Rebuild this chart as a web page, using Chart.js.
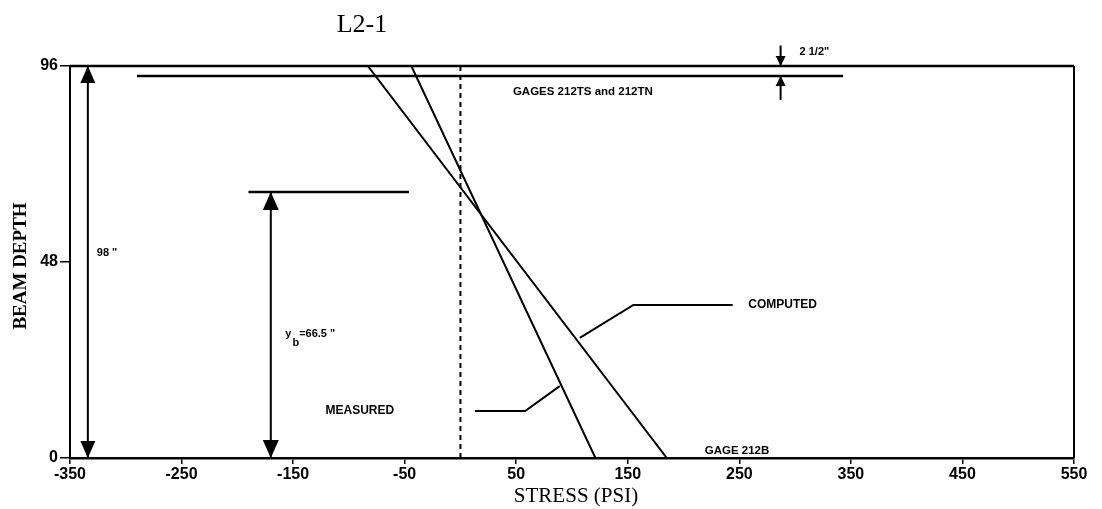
<!DOCTYPE html>
<html>
<head>
<meta charset="utf-8">
<script src="https://cdn.jsdelivr.net/npm/chart.js@4.4.1/dist/chart.umd.min.js"></script>
<style>
  html, body { margin: 0; padding: 0; background: #fff; }
  #wrap { width: 1102px; height: 509px; position: relative; }
</style>
</head>
<body>
<div id="wrap"><canvas id="c"></canvas></div>
<script>
// ---- chart text ----
const chartTitle = 'L2-1';
const xAxisTitle = 'STRESS (PSI)';
const yAxisTitle = 'BEAM DEPTH';

// ---- axes ----
const stressTicks = [-350, -250, -150, -50, 50, 150, 250, 350, 450, 550];
const depthTicks = [0, 48, 96];

// ---- stress profiles (top of beam, bottom of beam) ----
const depthEnds = [96, 0];
const measuredStress = [-44, 121];
const computedStress = [-83, 185];

// ---- beam geometry, inches ----
const beamDepthIn = 98;
const neutralAxisIn = 66.5;
const gageOffsetIn = 2.5;

// ---- leader lines to the series labels ----
const computedLeaderX = [107, 155, 244];
const computedLeaderY = [29.4, 37.5, 37.5];
const measuredLeaderX = [13, 58, 89];
const measuredLeaderY = [11.5, 11.5, 17.6];

// ---- dimension lines ----
const gageLineX = [-290, 343];
const ybLineX = [-190, -46];
const depthArrowX = -334;
const ybArrowX = -170;
const offsetArrowX = 287;
const offsetTails = [101, 87.7];

// inches -> depth axis units (the 98" beam spans the 0..96 axis)
const toAxis = v => v * depthTicks[depthTicks.length - 1] / beamDepthIn;
const gageY = toAxis(beamDepthIn - gageOffsetIn);
const ybY = toAxis(neutralAxisIn);
const topY = toAxis(beamDepthIn);

const pts = (xs, ys) => xs.map((x, i) => ({ x, y: ys[i] }));

function lineSet(data, extra) {
  return Object.assign({
    data, showLine: true, borderColor: '#000', backgroundColor: '#000',
    borderWidth: 2, pointRadius: 0, tension: 0, fill: false
  }, extra || {});
}

const datasets = [
  lineSet(pts(measuredStress, depthEnds)),
  lineSet(pts(computedStress, depthEnds)),
  lineSet(pts(computedLeaderX, computedLeaderY)),
  lineSet(pts(measuredLeaderX, measuredLeaderY)),
  lineSet([{ x: 0, y: 0 }, { x: 0, y: topY }], { borderDash: [5, 4] }),
  lineSet(pts(gageLineX, [gageY, gageY]), { borderWidth: 2.5 }),
  lineSet(pts(ybLineX, [ybY, ybY]), { borderWidth: 2.5 }),
  lineSet([{ x: depthArrowX, y: 0 }, { x: depthArrowX, y: topY }]),
  lineSet([{ x: ybArrowX, y: 0 }, { x: ybArrowX, y: ybY }]),
  lineSet([{ x: offsetArrowX, y: offsetTails[0] }, { x: offsetArrowX, y: topY }], { clip: false }),
  lineSet([{ x: offsetArrowX, y: offsetTails[1] }, { x: offsetArrowX, y: gageY }], { clip: false })
];

// arrowheads: tip at (x, y), pointing up or down
const arrowHeads = [
  { x: depthArrowX, y: topY, dir: 'up', w: 15, h: 17 },
  { x: depthArrowX, y: 0, dir: 'down', w: 15, h: 17 },
  { x: ybArrowX, y: ybY, dir: 'up', w: 16, h: 18 },
  { x: ybArrowX, y: 0, dir: 'down', w: 16, h: 18 },
  { x: offsetArrowX, y: topY, dir: 'down', w: 10, h: 10 },
  { x: offsetArrowX, y: gageY, dir: 'up', w: 10, h: 10 }
];

const smallFont = 'bold 12px "Liberation Sans", Arial, sans-serif';
const noteLabels = [
  { text: 'COMPUTED', x: 258, y: 37.5, font: smallFont },
  { text: 'MEASURED', x: -121, y: 11.5, font: smallFont },
  { text: 'GAGES 212TS and 212TN', x: 47, y: 89.6, font: 'bold 11.5px "Liberation Sans", Arial, sans-serif' },
  { text: 'GAGE 212B', x: 219, y: 1.8, font: 'bold 11.5px "Liberation Sans", Arial, sans-serif' },
  { text: '2 1/2"', x: 304, y: 99.4, font: 'bold 11px "Liberation Sans", Arial, sans-serif' },
  { text: '98 "', x: -326, y: 50.2, font: 'bold 11px "Liberation Sans", Arial, sans-serif' }
];

const decorations = {
  id: 'decorations',
  afterDatasetsDraw(chart) {
    const { ctx, chartArea: a, scales: { x, y } } = chart;
    ctx.save();
    // frame top and right
    ctx.strokeStyle = '#000';
    ctx.lineWidth = 2.5;
    ctx.beginPath();
    ctx.moveTo(a.left, a.top);
    ctx.lineTo(a.right, a.top);
    ctx.stroke();
    ctx.lineWidth = 2;
    ctx.beginPath();
    ctx.moveTo(a.right, a.top);
    ctx.lineTo(a.right, a.bottom);
    ctx.stroke();

    // arrowheads
    ctx.fillStyle = '#000';
    arrowHeads.forEach(h => {
      const px = x.getPixelForValue(h.x);
      const py = y.getPixelForValue(h.y);
      const s = h.dir === 'up' ? 1 : -1;
      ctx.beginPath();
      ctx.moveTo(px, py);
      ctx.lineTo(px - h.w / 2, py + s * h.h);
      ctx.lineTo(px + h.w / 2, py + s * h.h);
      ctx.closePath();
      ctx.fill();
    });

    // notes
    ctx.textBaseline = 'middle';
    ctx.textAlign = 'left';
    noteLabels.forEach(l => {
      ctx.font = l.font;
      ctx.fillText(l.text, x.getPixelForValue(l.x), y.getPixelForValue(l.y));
    });

    // y_b label with subscript
    const lx = x.getPixelForValue(-157), ly = y.getPixelForValue(30.4);
    ctx.font = 'bold 11px "Liberation Sans", Arial, sans-serif';
    ctx.fillText('y', lx, ly);
    const wy = ctx.measureText('y').width;
    ctx.fillText('b', lx + wy + 1, ly + 9);
    const wb = ctx.measureText('b').width;
    ctx.fillText('=' + neutralAxisIn + ' "', lx + wy + wb + 1, ly);

    // titles
    ctx.fillStyle = '#000';
    ctx.textAlign = 'center';
    ctx.font = '26px "Liberation Serif", "Times New Roman", serif';
    ctx.fillText(chartTitle, 362, 25);
    ctx.font = '21px "Liberation Serif", "Times New Roman", serif';
    ctx.fillText(xAxisTitle, 576, 496);
    ctx.save();
    ctx.translate(21, 266);
    ctx.rotate(-Math.PI / 2);
    ctx.font = 'bold 19px "Liberation Serif", "Times New Roman", serif';
    ctx.fillText(yAxisTitle, 0, 0);
    ctx.restore();
    ctx.restore();
  }
};

const tickFont = { family: '"Liberation Sans", Arial, sans-serif', size: 16, weight: 'bold' };

new Chart(document.getElementById('c'), {
  type: 'scatter',
  data: { datasets },
  options: {
    responsive: true,
    maintainAspectRatio: false,
    animation: false,
    layout: { padding: { top: 66, right: 28, left: 0, bottom: 0 } },
    plugins: { legend: { display: false }, tooltip: { enabled: false } },
    scales: {
      x: {
        type: 'linear',
        min: stressTicks[0],
        max: stressTicks[stressTicks.length - 1],
        afterBuildTicks: s => { s.ticks = stressTicks.map(v => ({ value: v })); },
        afterFit: s => { s.height = 51; },
        grid: { drawOnChartArea: false, drawTicks: true, tickLength: 6, color: '#000', lineWidth: 1.5 },
        border: { display: true, color: '#000', width: 2.5 },
        ticks: { color: '#000', font: tickFont, padding: 1, maxRotation: 0, autoSkip: false, callback: v => String(v) }
      },
      y: {
        type: 'linear',
        min: depthTicks[0],
        max: depthTicks[depthTicks.length - 1],
        afterBuildTicks: s => { s.ticks = depthTicks.map(v => ({ value: v })); },
        afterFit: s => { s.width = 70; },
        grid: { drawOnChartArea: false, drawTicks: true, tickLength: 10, color: '#000', lineWidth: 1.5 },
        border: { display: true, color: '#000', width: 2 },
        ticks: { color: '#000', font: tickFont, padding: 2, autoSkip: false, callback: v => String(v) }
      }
    }
  },
  plugins: [decorations]
});
</script>
</body>
</html>
